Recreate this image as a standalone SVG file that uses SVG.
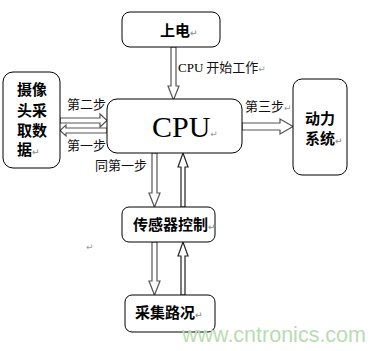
<svg xmlns="http://www.w3.org/2000/svg" width="376" height="351" viewBox="0 0 376 351">
<style>
.box{fill:#fff;stroke:#000;stroke-width:1}
.lbl{font-family:"Noto Sans CJK SC","DejaVu Sans",sans-serif;font-weight:bold;font-size:15px;fill:#000}
.step{font-family:"Noto Sans CJK SC","DejaVu Sans",sans-serif;font-size:13px;fill:#111}
.ser{font-family:"Liberation Serif",serif;fill:#000}
.ret{font-family:"DejaVu Sans",sans-serif;font-size:9px;fill:#999}
.arr{fill:#fff;stroke:#555;stroke-width:1.2;stroke-linejoin:miter}
</style>
<rect width="376" height="351" fill="#fff"/>
<g id="connectors">
<path class="arr" d="M171,47 V86 H168 L173.5,100 L179,86 H176 V47 Z"/>
<path class="arr" d="M60,118 H100 V114 L107,120.5 L100,127 V123 H60 Z"/>
<path class="arr" d="M107,128 H66 V125 L60,130.5 L66,136 V133 H107 Z"/>
<path class="arr" d="M242,123 H280 V119 L293,126.5 L280,134 V130 H242 Z"/>
<path class="arr" d="M152,153 V193 H149 L154.5,207 L160,193 H157 V153 Z"/>
<path class="arr" d="M181,207 V167 H178 L183,153 L188,167 H185 V207 Z" style="stroke:#222"/>
<path class="arr" d="M152,242 V281 H149 L154.5,295 L160,281 H157 V242 Z"/>
<path class="arr" d="M181,295 V256 H178 L183,242 L188,256 H185 V295 Z" style="stroke:#222"/>
<text class="step" x="178" y="72"><tspan class="ser">CPU</tspan> 开始工作<tspan class="ret">↵</tspan></text>
<text class="step" x="67" y="109">第二步</text>
<text class="step" x="67" y="150">第一步</text>
<text class="step" x="245" y="111">第三步<tspan class="ret">↵</tspan></text>
<text class="step" x="95" y="170">同第一步</text>
</g>
<g id="power">
<rect class="box" x="122" y="12" width="98" height="35" rx="8"/>
<text class="lbl" x="160" y="36">上电<tspan class="ret">↵</tspan></text>
</g>
<g id="camera">
<rect class="box" x="3" y="72" width="57" height="96" rx="10"/>
<text class="lbl" x="17" y="95">摄像</text>
<text class="lbl" x="17" y="116">头采</text>
<text class="lbl" x="17" y="136">取数</text>
<text class="lbl" x="17" y="155">据<tspan class="ret">↵</tspan></text>
</g>
<g id="cpu">
<rect class="box" x="107" y="99" width="135" height="54" rx="10"/>
<text class="ser" x="152" y="137" font-size="30">CPU<tspan class="ret">↵</tspan></text>
</g>
<g id="drive">
<rect class="box" x="293" y="79" width="54" height="96" rx="9"/>
<text class="lbl" x="305" y="124">动力</text>
<text class="lbl" x="305" y="144">系统<tspan class="ret">↵</tspan></text>
</g>
<g id="sensor">
<rect class="box" x="122" y="207" width="93" height="35" rx="7"/>
<text class="lbl" x="133" y="230" font-size="14">传感器控制<tspan class="ret">↵</tspan></text>
</g>
<g id="road">
<rect class="box" x="125" y="295" width="90" height="37" rx="7"/>
<text class="lbl" x="135" y="318">采集路况<tspan class="ret">↵</tspan></text>
</g>
<text class="ret" x="86" y="250" fill="#bbb">↵</text>
<text x="182" y="342" font-family="Liberation Sans,Arial,sans-serif" font-size="21.5" fill="#b9dcb2">www.cntronics.com</text>
</svg>
